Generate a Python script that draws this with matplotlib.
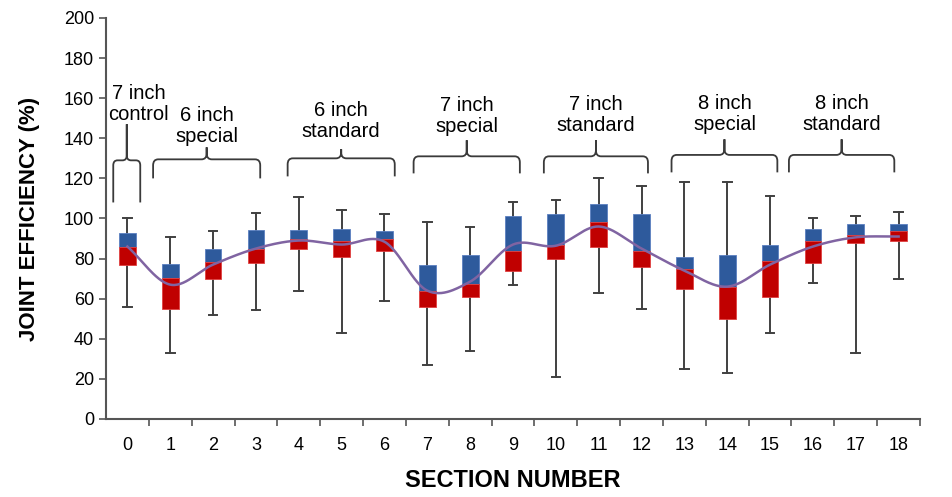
import numpy as np
import matplotlib.pyplot as plt
from matplotlib.path import Path
from matplotlib.patches import PathPatch

plt.rcParams['font.family'] = ['Liberation Sans', 'DejaVu Sans']

sections = list(range(19))
whisk_hi = [100, 91, 94, 102.5, 110.5, 104, 102, 98, 96, 108, 109, 120, 116, 118, 118, 111, 100, 101, 103]
q3 = [93, 77.5, 85, 94.5, 94.5, 95, 94, 76.8, 82, 101, 102, 107, 102, 81, 82, 87, 95, 97, 97]
median = [86, 70.5, 78.5, 85, 90, 89, 90, 64, 67.5, 84, 87, 98, 84, 75, 66, 79, 89, 92, 94]
q1 = [77, 55, 70, 78, 85, 81, 84, 56, 61, 74, 80, 86, 76, 65, 50, 61, 78, 88, 89]
whisk_lo = [56, 33, 52, 54.5, 64, 43, 59, 27, 34, 67, 21, 63, 55, 25, 23, 43, 68, 33, 70]
trend = [86, 67, 77, 85, 89, 87, 88.4, 64, 68.5, 87, 86.4, 96, 85, 74, 66, 77, 86, 90.6, 91]

groups = ["7 inch\ncontrol", "6 inch\nspecial", "6 inch\nstandard", "7 inch\nspecial",
          "7 inch\nstandard", "8 inch\nspecial", "8 inch\nstandard"]
group_spans = [(-0.33, 0.30), (0.6, 3.1), (3.74, 6.24), (6.68, 9.16),
               (9.72, 12.15), (12.7, 15.17), (15.44, 17.9)]

# layout of the bracket annotations (label centre, brace top, arm bottom, spike tip)
label_y = [157, 146, 148.5, 151.3, 151.8, 152.3, 152.3]
brace_top = [129, 129.5, 130, 131, 131, 131.7, 131.7]
brace_bot = [108, 120, 121, 122.5, 122.5, 123, 123]
brace_tip = [147, 135.5, 134.5, 139, 139, 139.5, 139.5]

BLUE = '#2E5A9C'
RED = '#C00000'


def catmull_rom(xs, ys, n=30):
    xs = np.asarray(xs, float)
    ys = np.asarray(ys, float)
    px = np.concatenate([[2 * xs[0] - xs[1]], xs, [2 * xs[-1] - xs[-2]]])
    py = np.concatenate([[2 * ys[0] - ys[1]], ys, [2 * ys[-1] - ys[-2]]])
    outx, outy = [], []
    t = np.linspace(0, 1, n, endpoint=False)
    for i in range(1, len(px) - 2):
        for arr, a in ((outx, px), (outy, py)):
            a0, a1, a2, a3 = a[i - 1], a[i], a[i + 1], a[i + 2]
            arr.extend(0.5 * (2 * a1 + (-a0 + a2) * t + (2 * a0 - 5 * a1 + 4 * a2 - a3) * t ** 2
                              + (-a0 + 3 * a1 - 3 * a2 + a3) * t ** 3))
    outx.append(xs[-1])
    outy.append(ys[-1])
    return outx, outy


def brace(ax, x0, x1, ytop, ybot, ytip, rx=0.12, ry=3.0):
    xm = (x0 + x1) / 2
    verts, codes = [], []
    for xe, s in ((x0, 1), (x1, -1)):
        verts += [(xe, ybot), (xe, ytop - ry), (xe, ytop), (xe + s * rx, ytop),
                  (xm - s * rx, ytop), (xm, ytop), (xm, ytop + ry), (xm, ytip)]
        codes += [Path.MOVETO, Path.LINETO, Path.CURVE3, Path.CURVE3,
                  Path.LINETO, Path.CURVE3, Path.CURVE3, Path.LINETO]
    ax.add_patch(PathPatch(Path(verts, codes), fill=False, edgecolor='#3a3a3a', lw=1.3, zorder=3))


fig = plt.figure(figsize=(9.53, 4.97), dpi=100)
ax = fig.add_axes([0.1112, 0.157, 0.8542, 0.8068])

w = 0.39
for x, hi, a, m, b, lo in zip(sections, whisk_hi, q3, median, q1, whisk_lo):
    ax.plot([x, x], [lo, hi], color='#404040', lw=1.4, zorder=1)
    ax.plot([x - 0.1, x + 0.1], [hi, hi], color='#404040', lw=1.4, zorder=1)
    ax.plot([x - 0.1, x + 0.1], [lo, lo], color='#404040', lw=1.4, zorder=1)
    ax.bar(x, a - m, bottom=m, width=w, color=BLUE, edgecolor='#5b7fc0', lw=0.6, zorder=2)
    ax.bar(x, m - b, bottom=b, width=w, color=RED, edgecolor='#e04040', lw=0.6, zorder=2)

sx, sy = catmull_rom(sections, trend)
ax.plot(sx, sy, color='#8064A2', lw=1.8, zorder=4)

# group brackets
for i, ((x0, x1), label) in enumerate(zip(group_spans, groups)):
    small = i == 0
    brace(ax, x0, x1, brace_top[i], brace_bot[i], brace_tip[i],
          rx=0.1 if small else 0.12, ry=2.5 if small else 3.0)
    xm = 0.26 if small else (x0 + x1) / 2
    ax.text(xm, label_y[i], label, ha='center', va='center', fontsize=14.5, linespacing=1.15)

ax.set_xlim(-0.5, 18.5)
ax.set_ylim(0, 200)
ax.set_yticks(range(0, 201, 20))
ax.set_xticks(sections)
ax.set_xticks(np.arange(0.5, 18.6, 1), minor=True)
ax.tick_params(axis='x', which='major', length=0, labelsize=13, pad=13)
ax.tick_params(axis='x', which='minor', length=5, width=1.2, color='#555555', direction='out')
ax.tick_params(axis='y', length=5, width=1.2, color='#555555', labelsize=13)
for side in ('top', 'right'):
    ax.spines[side].set_visible(False)
for side in ('left', 'bottom'):
    ax.spines[side].set_color('#555555')
    ax.spines[side].set_linewidth(1.5)

ax.set_xlabel('SECTION NUMBER', fontsize=17, fontweight='bold', labelpad=11)
ax.set_ylabel('JOINT EFFICIENCY (%)', fontsize=16, fontweight='bold', labelpad=17)

fig.savefig('out.png', dpi=100)
